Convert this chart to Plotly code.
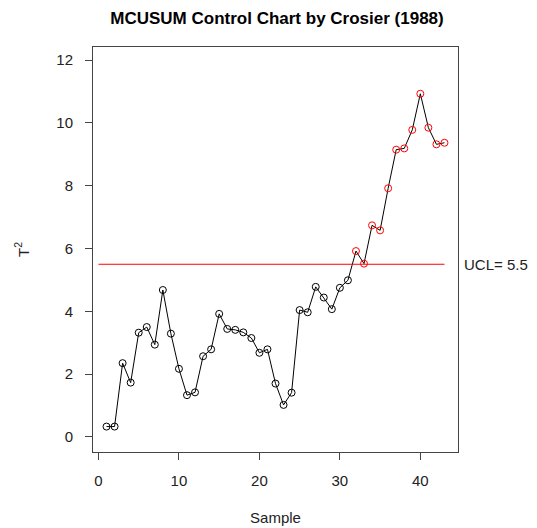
import plotly.graph_objects as go

sample = list(range(1, 44))
t2 = [0.33, 0.33, 2.35, 1.73, 3.32, 3.50, 2.94, 4.68, 3.29, 2.17,
      1.33, 1.42, 2.57, 2.79, 3.92, 3.44, 3.41, 3.33, 3.15, 2.68,
      2.79, 1.70, 1.02, 1.41, 4.04, 3.97, 4.78, 4.44, 4.07, 4.75,
      4.99, 5.92, 5.52, 6.74, 6.58, 7.92, 9.15, 9.19, 9.78, 10.93,
      9.85, 9.32, 9.37]
ucl = 5.5
x_ticks = [0, 10, 20, 30, 40]
y_ticks = [0, 2, 4, 6, 8, 10, 12]

colors = ["red" if v > ucl else "black" for v in t2]
FONT = "Liberation Sans, Arial, sans-serif"

fig = go.Figure()
fig.add_trace(go.Scatter(
    x=sample, y=t2, mode="lines",
    line=dict(color="black", width=1), showlegend=False, hoverinfo="skip"))
fig.add_trace(go.Scatter(
    x=sample, y=t2, mode="markers",
    marker=dict(symbol="circle-open", size=7, color=colors, line=dict(width=1)),
    showlegend=False))
fig.add_trace(go.Scatter(
    x=[0, 43], y=[ucl, ucl], mode="lines",
    line=dict(color="red", width=1), showlegend=False, hoverinfo="skip"))

fig.add_annotation(
    xref="paper", x=1.0, xanchor="left", xshift=4,
    yref="y", y=ucl, yanchor="middle",
    text="UCL= %g" % ucl, showarrow=False,
    font=dict(family=FONT, size=15, color="#222"))

# page body adds an 8px offset, so the figure is sized to fit the window
fig.update_layout(
    width=529, height=520,
    margin=dict(l=85, r=79, t=39, b=76, autoexpand=False),
    paper_bgcolor="white", plot_bgcolor="white",
    font=dict(family=FONT, size=15, color="#222"),
    title=dict(text="<b>MCUSUM Control Chart by Crosier (1988)</b>",
               x=0.5085, xanchor="center", y=0.981, yanchor="middle",
               font=dict(family=FONT, size=17, color="black")),
    xaxis=dict(range=[-0.68, 44.68], tickvals=x_ticks, ticks="outside",
               ticklen=7, tickcolor="#444", showgrid=False, zeroline=False,
               showline=True, linecolor="#444", linewidth=1, mirror=True,
               ticklabelstandoff=8, automargin=False,
               title=dict(text="Sample", standoff=24, font=dict(size=15))),
    yaxis=dict(range=[-0.48, 12.42], tickvals=y_ticks, ticks="outside",
               ticklen=7, tickcolor="#444", showgrid=False, zeroline=False,
               showline=True, linecolor="#444", linewidth=1, mirror=True,
               ticklabelstandoff=9, automargin=False,
               title=dict(text="T<sup>2</sup>", standoff=23, font=dict(size=15))),
)

fig.write_html("out.html")
